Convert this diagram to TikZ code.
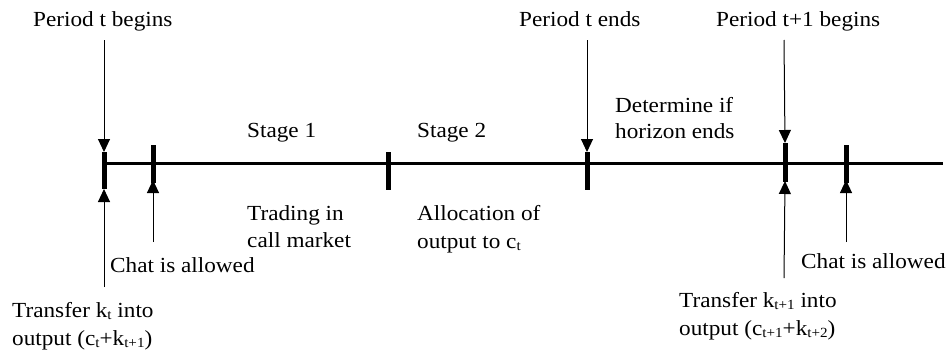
\documentclass[tikz,border=0pt]{standalone}
\usepackage{fontspec}
\setmainfont[FakeStretch=1.08]{Liberation Serif}
\usetikzlibrary{arrows.meta}
\newcommand{\sbs}[1]{\raisebox{-0.3ex}{\fontsize{14}{14}\selectfont #1}}
\begin{document}
\begin{tikzpicture}[x=1pt,y=-1pt,
  lbl/.style={anchor=base west,inner sep=0pt,font=\fontsize{21.5}{26}\selectfont},
  tick/.style={line width=5pt},
  axis/.style={line width=3pt},
  arr/.style={line width=1pt,-{Triangle[length=13pt,width=12pt]}}]
\useasboundingbox (0,0) rectangle (950,351);
% axis
\coordinate (ls) at (104,163);
\coordinate (le) at (943,163);
\draw[axis] (ls) -- (le);
% ticks
\coordinate (t1a) at (104,152); \coordinate (t1b) at (104,189);
\coordinate (t2a) at (153,145); \coordinate (t2b) at (153,183);
\coordinate (t3a) at (388,152); \coordinate (t3b) at (388,190);
\coordinate (t4a) at (587,152); \coordinate (t4b) at (587,190);
\coordinate (t5a) at (785,143); \coordinate (t5b) at (785,182);
\coordinate (t6a) at (846,145); \coordinate (t6b) at (846,183);
\foreach \i in {1,...,6} {\draw[tick] (t\i a) -- (t\i b);}
% arrow starts
\coordinate (s1) at (104,40);
\coordinate (s4) at (587,40);
\coordinate (s5) at (784,40);
\coordinate (b1) at (104,287);
\coordinate (b2) at (153,242);
\coordinate (b5) at (784,278);
\coordinate (b6) at (846,242);
\draw[arr] (s1) -- (t1a);
\draw[arr] (s4) -- (t4a);
\draw[arr] (s5) -- (t5a);
\draw[arr] (b1) -- (t1b);
\draw[arr] (b2) -- ([yshift=3pt]t2b);
\draw[arr] (b5) -- ([yshift=1pt]t5b);
\draw[arr] (b6) -- ([yshift=3pt]t6b);
% labels
\node[lbl] (p1) at (33,26) {Period t begins};
\node[lbl] (p2) at (519,26) {Period t ends};
\node[lbl] (p3) at (716,26) {Period t+1 begins};
\node[lbl] (st1) at (247,137) {Stage 1};
\node[lbl] (st2) at (417,137) {Stage 2};
\node[lbl] (d1) at (615,112) {Determine if};
\node[lbl] (d2) at (615,138) {horizon ends};
\node[lbl] (tr1) at (247,220) {Trading in};
\node[lbl] (tr2) at (247,247) {call market};
\node[lbl] (al1) at (417,220) {Allocation of};
\node[lbl] (al2) at (417,248) {output to c\sbs{t}};
\node[lbl] (ch1) at (110,272) {Chat is allowed};
\node[lbl] (ch2) at (801,268) {Chat is allowed};
\node[lbl] (tf1) at (12,317) {Transfer k\sbs{t} into};
\node[lbl] (tf2) at (12,345) {output (c\sbs{t}+k\sbs{t+1})};
\node[lbl] (tg1) at (679,307) {Transfer k\sbs{t+1} into};
\node[lbl] (tg2) at (679,335) {output (c\sbs{t+1}+k\sbs{t+2})};
\end{tikzpicture}
\end{document}
